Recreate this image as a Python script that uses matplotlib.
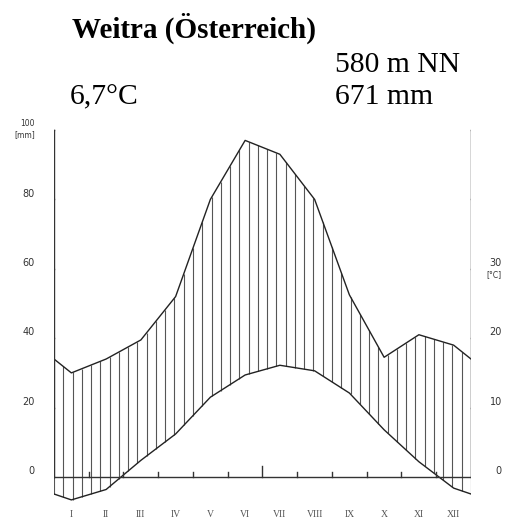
import numpy as np
import matplotlib.pyplot as plt

# Klimadiagramm nach Walter/Lieth: Weitra, Niederoesterreich
station = 'Weitra (Österreich)'
hoehe = '580 m NN'
jahr_temp = '6,7°C'
jahr_nied = '671 mm'

monate = ['I', 'II', 'III', 'IV', 'V', 'VI', 'VII', 'VIII', 'IX', 'X', 'XI', 'XII']
temperatur = [-3.3, -1.8, 2.4, 6.2, 11.5, 14.7, 16.1, 15.3, 12.1, 6.8, 2.2, -1.6]   # degC
niederschlag = [30, 34, 39.5, 52, 80, 97, 93, 80, 52.5, 34.5, 41, 38]             # mm

mm_ticks = [0, 20, 40, 60, 80, 100]
c_ticks = [0, 10, 20, 30, 40, 50]
c_labels = ['0', '10', '20', '30', '', '']

W, H = 506, 520
fig = plt.figure(figsize=(W / 100, H / 100), dpi=100)

# axes spans full height; y in mm, 1 mm = 3.47 px, zero line 43 px above bottom
px_mm = 3.47
y0 = 43
ax = fig.add_axes([54 / W, 0, 417 / W, 1])
ax.set_xlim(0, 12)
ax.set_ylim(-y0 / px_mm, (H - y0) / px_mm)
ax.axis('off')

# curves with the Dec/Jan mean at both edges, temperature scaled 10 degC = 20 mm
x = np.arange(12) + 0.5
rand_t = (temperatur[0] + temperatur[-1]) / 2
rand_n = (niederschlag[0] + niederschlag[-1]) / 2
xk = np.concatenate([[0], x, [12]])
tk = np.concatenate([[rand_t], temperatur, [rand_t]]) * 2
nk = np.concatenate([[rand_n], niederschlag, [rand_n]])

# vertical hatching for the humid season
xs = np.linspace(0, 12, 46)
ax.vlines(xs, np.interp(xs, xk, tk), np.interp(xs, xk, nk),
          color='#555555', lw=0.8)

ax.plot(xk, nk, color='#222222', lw=1.0)
ax.plot(xk, tk, color='#222222', lw=1.0)

lc = '#333333'
tc = '#333333'
# left axis (mm)
ax.plot([0, 0], [0, 100], color=lc, lw=1.0)
for v in mm_ticks:
    ax.plot([-0.17, 0], [v, v], color=lc, lw=1.0)
    if v == 100:
        continue
    ax.text(-0.55, v + 1.7, str(v), ha='right', va='center', fontsize=7, color=tc)
ax.text(-0.55, 101.8, '100', ha='right', va='center', fontsize=5.5, color=tc)
ax.text(-0.55, 98.8, '[mm]', ha='right', va='center', fontsize=5.5, color=tc)

# right axis (degC)
ax.plot([12, 12], [0, 100], color=lc, lw=1.0)
for v, lab in zip(c_ticks, c_labels):
    ax.plot([12, 12.2], [v * 2, v * 2], color=lc, lw=1.0)
    if lab:
        ax.text(12.89, v * 2 + 1.7, lab, ha='right', va='center', fontsize=7, color=tc)
ax.text(12.89, 58.3, '[°C]', ha='right', va='center', fontsize=5.5, color=tc)

# zero line and month boundaries
ax.plot([-0.17, 12.2], [0, 0], color=lc, lw=1.0)
for i in range(1, 12):
    ax.plot([i, i], [0, 3.3 if i == 6 else 1.5], color=lc, lw=1.0)

for xi, m in zip(x, monate):
    ax.text(xi, -10.8, m, ha='center', va='center', fontsize=7,
            family='Liberation Serif', color='#555555')

fig.text(72 / W, 1 - 37.5 / H, station, fontsize=21, fontweight='bold',
         family='Liberation Serif', va='baseline')
fig.text(335 / W, 1 - 71.7 / H, hoehe, fontsize=21.3, family='Liberation Serif', va='baseline')
fig.text(70 / W, 1 - 104 / H, jahr_temp, fontsize=21.3, family='Liberation Serif', va='baseline')
fig.text(335 / W, 1 - 104 / H, jahr_nied, fontsize=21.3, family='Liberation Serif', va='baseline')

fig.savefig('out.png', dpi=100)
